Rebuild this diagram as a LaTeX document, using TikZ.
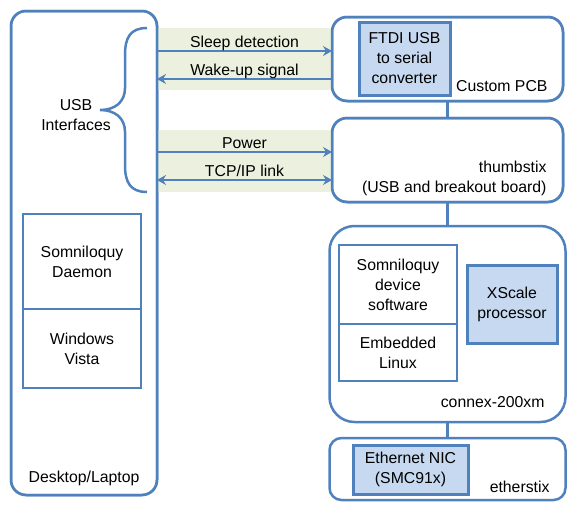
\documentclass[tikz,border=0pt]{standalone}
\usepackage{fontspec}
\setmainfont{Liberation Sans}
\usepackage{xcolor}
\usetikzlibrary{arrows.meta,positioning,calc}

\definecolor{lineblue}{HTML}{4F81BD}
\definecolor{fillblue}{HTML}{C6D9F1}
\definecolor{bandgreen}{HTML}{EBF1DE}

\begin{document}
\begin{tikzpicture}[
    x=1pt, y=-1pt,
    every node/.style={font=\fontsize{15.8}{20}\selectfont, text=black},
    board/.style={rectangle, draw=lineblue, line width=2.5pt, inner sep=0pt, outer sep=0pt},
    layer/.style={rectangle, draw=lineblue, line width=2.5pt, inner sep=0pt, outer sep=0pt, align=center},
    chip/.style={rectangle, draw=lineblue, fill=fillblue, line width=3pt, inner sep=0pt, outer sep=0pt, align=center},
    tag/.style={anchor=base east, align=right},
    arrow/.style={-{Stealth[length=9pt, width=10pt, inset=3pt]}, draw=lineblue, line width=2.5pt},
    dblarrow/.style={{Stealth[length=9pt, width=10pt, inset=3pt]}-{Stealth[length=9pt, width=10pt, inset=3pt]}, draw=lineblue, line width=2.5pt},
    band/.style={fill=bandgreen},
    link/.style={draw=lineblue, line width=2.5pt}
]
\useasboundingbox (0,0) rectangle (578,512);

% host side
\node[board, rounded corners=15pt, minimum width=146pt, minimum height=484pt] (desk) at (84,253) {};
\node[layer, minimum width=118pt, minimum height=95pt] (daemon) at (82,261.5) {Somniloquy\\Daemon};
\node[layer, minimum width=118pt, minimum height=79pt] (vista) at (82,348.5) {Windows\\Vista};
\node[anchor=base] (desklbl) at (84,482) {Desktop/Laptop};

% device stack
\node[board, rounded corners=15pt, minimum width=231pt, minimum height=84pt] (pcb) at (447.5,59) {};
\node[chip, minimum width=91pt, minimum height=73pt] (ftdi) at (404.5,58.5) {FTDI USB\\to serial\\converter};
\node[tag] (pcblbl) at (551,91) {Custom PCB};

\node[board, rounded corners=15pt, minimum width=231pt, minimum height=84pt] (thumb) at (447.5,160) {};
\node[tag] (thumblbl) at (550,192) {thumbstix\\(USB and breakout board)};

\node[board, rounded corners=25pt, minimum width=236pt, minimum height=196pt] (connex) at (447.5,324) {};
\node[layer, minimum width=118pt, minimum height=79pt] (devsw) at (398,284.5) {Somniloquy\\device\\software};
\node[layer, minimum width=118pt, minimum height=57pt] (linux) at (398,352.5) {Embedded\\Linux};
\node[chip, minimum width=90pt, minimum height=78pt] (xscale) at (512,304) {XScale\\processor};
\node[tag] (connexlbl) at (548,407) {connex-200xm};

\node[board, rounded corners=12pt, minimum width=236pt, minimum height=62pt] (ether) at (447.5,469) {};
\node[chip, minimum width=115pt, minimum height=49pt] (nic) at (410.5,469.5) {Ethernet NIC\\(SMC91x)};
\node[tag] (etherlbl) at (553,492) {etherstix};

\draw[link] (pcb.south) -- (thumb.north);
\draw[link] (thumb.south) -- (connex.north);
\draw[link] (connex.south) -- (ether.north);

% usb links
\fill[band] (desk.east |- 0,28) rectangle (pcb.west |- 0,90);
\fill[band] (desk.east |- 0,130) rectangle (thumb.west |- 0,192);

\draw[arrow] (desk.east |- 0,51) -- node[anchor=base, yshift=4pt] {Sleep detection} (pcb.west |- 0,51);
\draw[arrow] (pcb.west |- 0,79) -- node[anchor=base, yshift=4pt] {Wake-up signal} (desk.east |- 0,79);
\draw[arrow] (desk.east |- 0,152) -- node[anchor=base, yshift=4pt] {Power} (thumb.west |- 0,152);
\draw[dblarrow] (desk.east |- 0,180) -- node[anchor=base, yshift=4pt] {TCP/IP link} (thumb.west |- 0,180);

% redraw borders over the bands
\draw[lineblue, line width=2.5pt, rounded corners=15pt] (desk.south west) rectangle (desk.north east);
\draw[lineblue, line width=2.5pt, rounded corners=15pt] (pcb.south west) rectangle (pcb.north east);
\draw[lineblue, line width=2.5pt, rounded corners=15pt] (thumb.south west) rectangle (thumb.north east);

% brace
\draw[lineblue, line width=2.5pt] (147,28) .. controls (130,28) and (125,38) .. (125,55) -- (125,88)
    .. controls (125,102) and (115,110) .. (100,110)
    .. controls (115,110) and (125,118) .. (125,132) -- (125,165)
    .. controls (125,182) and (130,192) .. (147,192);
\node[align=center] (usblbl) at (76,115) {USB\\Interfaces};
\end{tikzpicture}
\end{document}
